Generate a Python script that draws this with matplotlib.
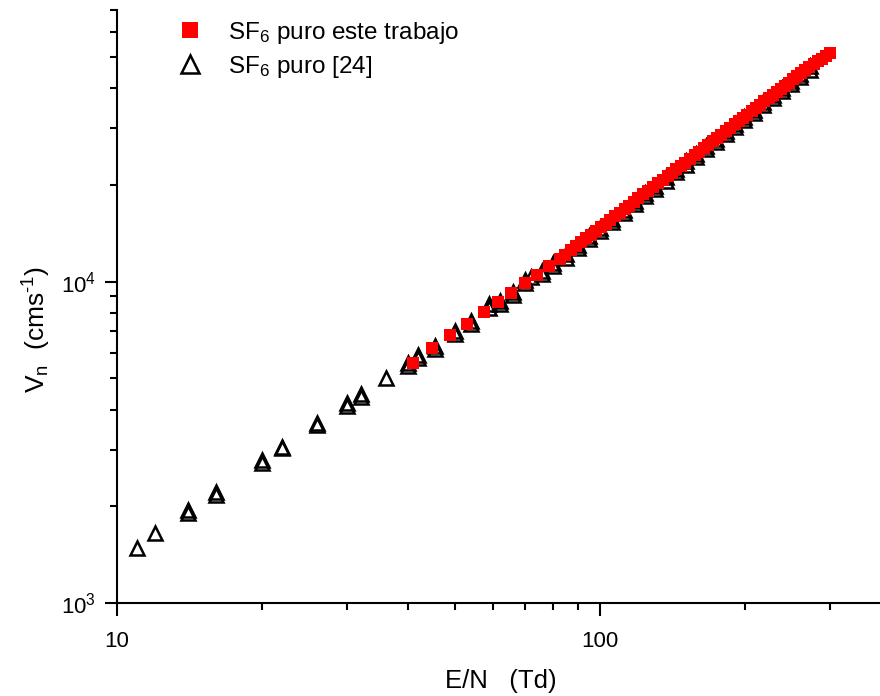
import matplotlib
matplotlib.use("Agg")
import matplotlib.pyplot as plt
from matplotlib import ticker

plt.rcParams["font.family"] = ["Liberation Sans", "DejaVu Sans"]
plt.rcParams["mathtext.fontset"] = "custom"
plt.rcParams["mathtext.rm"] = "Liberation Sans"
plt.rcParams["mathtext.it"] = "Liberation Sans:italic"
plt.rcParams["mathtext.bf"] = "Liberation Sans:bold"

# Drift velocity in pure SF6, this work
sq_x = [41, 45, 49, 53, 57.5, 61.5, 65.5, 70, 74, 78.5,
        82.5, 84.8, 87, 89.2, 91.5, 93.7, 96, 98.2, 100.5, 102.7,
        105, 107.5, 110, 112.5, 115, 117.5, 120, 123, 126, 129,
        132, 135, 138, 141, 144, 147, 150, 153.5, 157, 160.5,
        164, 167.5, 171, 174.5, 178, 182, 186, 190, 194, 198,
        202, 206, 210, 214.5, 219, 223.5, 228, 232.5, 237, 241.5,
        246, 251, 256, 261, 266, 271.5, 277, 282.5, 288, 293.5, 299]
sq_y = [5600, 6200, 6800, 7400, 8050, 8650, 9200, 9900, 10500, 11150,
        11750, 12120, 12500, 12870, 13250, 13620, 14000, 14370, 14750, 15140,
        15550, 15970, 16400, 16820, 17250, 17700, 18150, 18670, 19200, 19720,
        20250, 20770, 21300, 21850, 22400, 22920, 23450, 24100, 24750, 25370,
        26000, 26650, 27300, 27950, 28600, 29350, 30100, 30850, 31600, 32350,
        33100, 33870, 34650, 35500, 36350, 37220, 38100, 38970, 39850, 40720,
        41600, 42570, 43550, 44550, 45550, 46570, 47600, 48500, 49400, 50450, 51500]

# Drift velocity in pure SF6, reference [24]
tri_x = [11, 12, 14, 14, 16, 16, 20, 20, 22, 22, 26, 26, 30, 30, 32, 32, 36,
         40, 40, 42, 42, 45.5, 45.5, 50, 50, 54, 54, 59, 59, 62, 62, 66, 66,
         70, 70, 72, 76, 76, 80, 80, 85, 85, 90, 90, 95, 95, 100, 100,
         106, 106, 112, 112, 118, 118, 124, 124, 130, 130, 137, 137,
         144, 144, 151, 151, 158, 158, 166, 166, 174, 174, 182, 182,
         190, 190, 199, 199, 208, 208, 218, 218, 228, 228, 238, 238,
         249, 249, 260, 260, 272, 272]
tri_y = [1480, 1650, 1950, 1900, 2210, 2170, 2780, 2720, 3060, 3040, 3620, 3580,
         4180, 4100, 4460, 4380, 5000,
         5570, 5480, 5900, 5780, 6300, 6180, 7000, 6870, 7550, 7400, 8500, 8300,
         8700, 8520, 9250, 9060, 10100, 9880, 10300, 10800, 10580, 11400, 11150,
         12150, 11880, 13000, 12720, 13850, 13550, 14700, 14380,
         15700, 15360, 16750, 16380, 17800, 17400, 18850, 18430, 19900, 19460,
         21100, 20630, 22400, 21900, 23650, 23120, 24900, 24350, 26400, 25820,
         27850, 27230, 29350, 28700, 30850, 30170, 32550, 31830, 34250, 33490,
         36150, 35350, 38100, 37250, 40050, 39160, 42200, 41270, 44350, 43370,
         46700, 45670]

x_ticks = [10, 100]
x_tick_labels = ["10", "100"]
y_ticks = [1e3, 1e4]
x_limits = (10, 380)
y_limits = (1e3, 7e4)

label_sq = r"SF$_{\mathregular{6}}$ puro este trabajo"
label_tri = r"SF$_{\mathregular{6}}$ puro [24]"

fig = plt.figure(figsize=(8.8, 6.96), dpi=100)
ax = fig.add_axes([117 / 880, 93 / 696, 763 / 880, 593 / 696])
ax.set_xscale("log")
ax.set_yscale("log")
ax.set_xlim(*x_limits)
ax.set_ylim(*y_limits)

ax.plot(tri_x, tri_y, linestyle="none", marker="^", markersize=10.5,
        markerfacecolor="none", markeredgecolor="black", markeredgewidth=1.8,
        label=label_tri, zorder=3, clip_on=False)
ax.plot(sq_x, sq_y, linestyle="none", marker="s", markersize=9.3,
        markerfacecolor="#ff0000", markeredgecolor="#ff0000", markeredgewidth=0.0,
        label=label_sq, zorder=4, clip_on=False)

for side in ("top", "right"):
    ax.spines[side].set_visible(False)
for side in ("left", "bottom"):
    ax.spines[side].set_linewidth(1.5)

ax.xaxis.set_major_locator(ticker.FixedLocator(x_ticks))
ax.xaxis.set_major_formatter(ticker.FixedFormatter(x_tick_labels))
ax.xaxis.set_minor_locator(ticker.LogLocator(base=10, subs=range(2, 10), numticks=20))
ax.xaxis.set_minor_formatter(ticker.NullFormatter())
ax.yaxis.set_major_locator(ticker.FixedLocator(y_ticks))
ax.yaxis.set_major_formatter(ticker.LogFormatterSciNotation())
ax.yaxis.set_minor_locator(ticker.LogLocator(base=10, subs=range(2, 10), numticks=20))
ax.yaxis.set_minor_formatter(ticker.NullFormatter())

ax.tick_params(which="major", direction="out", length=9, width=1.5, labelsize=16)
ax.tick_params(which="minor", direction="out", length=5, width=1.5)
ax.tick_params(axis="x", which="major", pad=11)
ax.tick_params(axis="y", which="major", pad=6)

ax.set_xlabel("E/N   (Td)", fontsize=18.5)
ax.set_ylabel(r"V$_{\mathregular{n}}$  (cms$^{\mathregular{\text{-}1}}$)", fontsize=19)
ax.xaxis.set_label_coords((501 - 117) / 763, -(681 - 603) / 593)
ax.xaxis.label.set_va("center")
ax.yaxis.set_label_coords((37 - 117) / 763, (603 - 329) / 593)
ax.yaxis.label.set_va("center")

handles, labels = ax.get_legend_handles_labels()
ax.legend(handles[::-1], labels[::-1], loc="upper left",
          bbox_to_anchor=(178 / 880, 1 - 20 / 696), bbox_transform=fig.transFigure,
          frameon=False, fontsize=17.5, handlelength=0.95, handletextpad=1.1,
          borderpad=0, borderaxespad=0, labelspacing=0.32, markerscale=1.2,
          numpoints=1)

fig.savefig("out.png", dpi=100)
